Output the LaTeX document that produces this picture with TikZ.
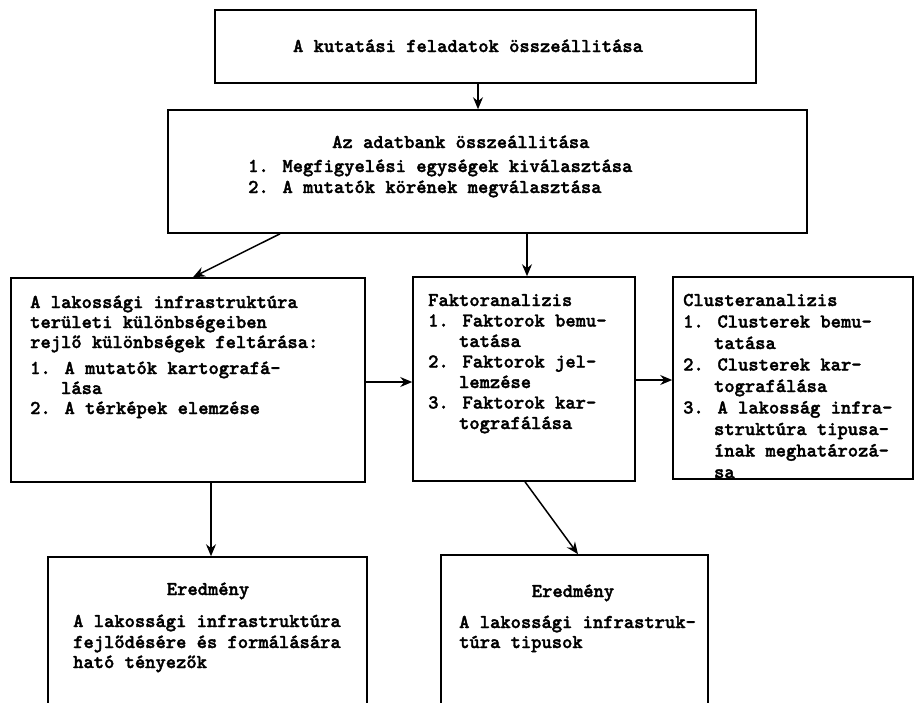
\documentclass[tikz,border=0pt]{standalone}
\usepackage{fontspec}
\newfontfamily\twb{lmmonolt10-bold.otf}[FakeBold=1.8]
\usetikzlibrary{fit,arrows.meta}
\begin{document}
\begin{tikzpicture}[x=1pt,y=-1pt,
  box/.style={draw, line width=1.6pt, inner sep=0pt},
  txt/.style={font=\twb\fontsize{19.6}{20}\selectfont, inner sep=0pt, anchor=base west},
  ctxt/.style={txt, anchor=base},
  arr/.style={line width=1.5pt, -{Stealth[length=12pt,width=10pt,inset=4pt]}}]
\useasboundingbox (0,0) rectangle (916,702);
\clip (0,0) rectangle (916,702);
\fill[white] (0,0) rectangle (916,702);

% boxes
\node[box, fit={(215,10) (756,83)}] (b1) {};
\node[box, fit={(168,110) (807,233)}] (b2) {};
\node[box, fit={(11,278) (365,482)}] (bL) {};
\node[box, fit={(413,277) (635,481)}] (bM) {};
\node[box, fit={(673,277) (913,479)}] (bR) {};
\node[box, fit={(48,557) (367,730)}] (bBL) {};
\node[box, fit={(441,555) (708,730)}] (bBR) {};

% texts
\node[ctxt] (t1) at (468,52) {A kutatási feladatok összeállitása};

\node[txt] (t2a) at (332,148) {Az adatbank összeállitása};
\node[txt] (t2b) at (248,172) {1. Megfigyelési egységek kiválasztása};
\node[txt] (t2c) at (248,193) {2. A mutatók körének megválasztása};

\foreach \t [count=\i] in {A lakossági infrastruktúra, területi különbségeiben, rejlő különbségek feltárása:}
  \node[txt] (l\i) at (30,{308+20*(\i-1)}) {\t};
\foreach \t [count=\i] in {1. A mutatók kartografá-, \phantom{1.~}lása, 2. A térképek elemzése}
  \node[txt] (lb\i) at (30,{374+20*(\i-1)}) {\t};

\foreach \t [count=\i] in {Faktoranalizis, 1. Faktorok bemu-, \phantom{1.~}tatása, 2. Faktorok jel-, \phantom{1.~}lemzése, 3. Faktorok kar-, \phantom{1.~}tografálása}
  \node[txt] (m\i) at (428,{306+20.5*(\i-1)}) {\t};

\foreach \t [count=\i] in {Clusteranalizis, 1. Clusterek bemu-, \phantom{1.~}tatása, 2. Clusterek kar-, \phantom{1.~}tografálása, 3. A lakosság infra-, \phantom{1.~}struktúra tipusa-, \phantom{1.~}ínak meghatározá-, \phantom{1.~}sa}
  \node[txt] (r\i) at (683,{306+21.5*(\i-1)}) {\t};

\node[ctxt] (e1) at (208,595) {Eredmény};
\node[txt] (e1a) at (73,627) {A lakossági infrastruktúra};
\node[txt] (e1b) at (73,648) {fejlődésére és formálására};
\node[txt] (e1c) at (73,668) {ható tényezők};

\node[ctxt] (e2) at (573,597) {Eredmény};
\node[txt] (e2a) at (459,628) {A lakossági infrastruk-};
\node[txt] (e2b) at (459,648) {túra tipusok};

% connectors
\coordinate (xa) at (478,0);
\coordinate (xb) at (280,0);
\coordinate (xc) at (193,0);
\coordinate (xd) at (527,0);
\coordinate (ya) at (0,382);
\coordinate (yb) at (0,380);
\coordinate (xe) at (211,0);
\coordinate (xf) at (525,0);
\coordinate (xg) at (578,0);
\draw[arr] (b1.south -| xa) -- (b2.north -| xa);
\draw[arr] (b2.south -| xb) -- (bL.north -| xc);
\draw[arr] (b2.south -| xd) -- (bM.north -| xd);
\draw[arr] (bL.east |- ya) -- (bM.west |- ya);
\draw[arr] (bM.east |- yb) -- (bR.west |- yb);
\draw[arr] (bL.south -| xe) -- (bBL.north -| xe);
\draw[arr] (bM.south -| xf) -- (bBR.north -| xg);
\end{tikzpicture}
\end{document}
